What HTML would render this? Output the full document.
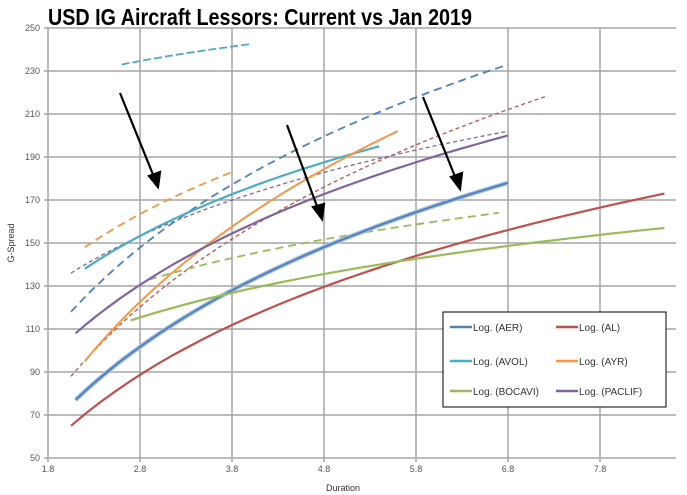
<!DOCTYPE html>
<html><head><meta charset="utf-8"><style>
body{margin:0;background:#fff}
svg{display:block;font-family:"Liberation Sans",sans-serif}
</style></head><body>
<svg id="s" width="687" height="495" viewBox="0 0 687 495" xmlns="http://www.w3.org/2000/svg">
<text x="48" y="25" font-size="23" font-weight="bold" fill="#000" textLength="424" lengthAdjust="spacingAndGlyphs">USD IG Aircraft Lessors: Current vs Jan 2019</text>
<g id="grid" stroke="#a6a6a6" stroke-width="1.5"></g>
<g id="lab" font-size="9" fill="#555"></g>
<text x="14" y="243" font-size="9" fill="#333" transform="rotate(-90 14 243)" text-anchor="middle">G-Spread</text>
<text x="343" y="491" font-size="9" fill="#333" text-anchor="middle">Duration</text>
<g id="curves" fill="none"></g>
<g stroke="#000" stroke-width="2.2" fill="#000">
<line x1="120" y1="93" x2="154" y2="177"/><polygon points="158,187 149,176 160,172"/>
<line x1="287" y1="125" x2="318" y2="209"/><polygon points="322,219 313,207 324,204"/>
<line x1="423" y1="97" x2="456" y2="179"/><polygon points="460,189 451,177 462,173"/>
</g>
<rect x="443" y="312" width="223" height="95" fill="#fff" stroke="#000" stroke-width="1"/>
<g font-size="10" fill="#333">
<line x1="450" y1="327" x2="472" y2="327" stroke="#4f81bd" stroke-width="2.5"/><text x="473" y="331">Log. (AER)</text>
<line x1="556" y1="327" x2="578" y2="327" stroke="#c0504d" stroke-width="2.5"/><text x="579" y="331">Log. (AL)</text>
<line x1="450" y1="361" x2="472" y2="361" stroke="#4bacc6" stroke-width="2.5"/><text x="473" y="365">Log. (AVOL)</text>
<line x1="556" y1="361" x2="578" y2="361" stroke="#f79646" stroke-width="2.5"/><text x="579" y="365">Log. (AYR)</text>
<line x1="450" y1="391" x2="472" y2="391" stroke="#9bbb59" stroke-width="2.5"/><text x="473" y="395">Log. (BOCAVI)</text>
<line x1="556" y1="391" x2="578" y2="391" stroke="#8064a2" stroke-width="2.5"/><text x="579" y="395">Log. (PACLIF)</text>
</g>
</svg>
<script>
var NS="http://www.w3.org/2000/svg";
function X(d){return 48+92*(d-1.8);}
function Y(v){return 458-2.15*(v-50);}
function el(p,t,a){var e=document.createElementNS(NS,t);for(var k in a)e.setAttribute(k,a[k]);document.getElementById(p).appendChild(e);return e;}
for(var v=50;v<=250;v+=20){el("grid","line",{x1:44,x2:676,y1:Y(v),y2:Y(v)});var t=el("lab","text",{x:40,y:Y(v)+3,"text-anchor":"end"});t.textContent=v;}
for(var d=1.8;d<8.5;d+=1){el("grid","line",{x1:X(d),x2:X(d),y1:28,y2:462});var t=el("lab","text",{x:X(d),y:472,"text-anchor":"middle"});t.textContent=d.toFixed(1);}
function curve(d1,v1,d2,v2,col,w,dash){var b=(v2-v1)/Math.log(d2/d1);var p="";for(var i=0;i<=40;i++){var d=d1+(d2-d1)*i/40;var v=v1+b*Math.log(d/d1);p+=(i?"L":"M")+X(d).toFixed(1)+","+Y(v).toFixed(1);}var a={d:p,stroke:col,"stroke-width":w};if(dash)a["stroke-dasharray"]=dash;el("curves","path",a);}
curve(2.05,88,7.2,218,"#c0504d",1.3,"4,3");
curve(2.05,136,6.8,202,"#8064a2",1.3,"4,3");
curve(2.05,118,6.8,233,"#4f81bd",1.8,"8,5");
curve(2.6,233,4.0,242.5,"#4bacc6",1.8,"8,3");
curve(2.2,148,3.8,183,"#f79646",1.8,"8,5");
curve(2.9,133,6.7,164,"#9bbb59",1.8,"8,5");
curve(2.1,77,6.8,178,"#a8c0e0",4.5,null);
curve(2.1,77,6.8,178,"#4f81bd",2,null);
curve(2.05,65,8.5,173,"#c0504d",2.2,null);
curve(2.2,138,5.4,195,"#4bacc6",2.2,null);
curve(2.2,95,5.6,202,"#f79646",2,null);
curve(2.7,114,8.5,157,"#9bbb59",2.2,null);
curve(2.1,108,6.8,200,"#8064a2",2.2,null);
</script>
</body></html>
